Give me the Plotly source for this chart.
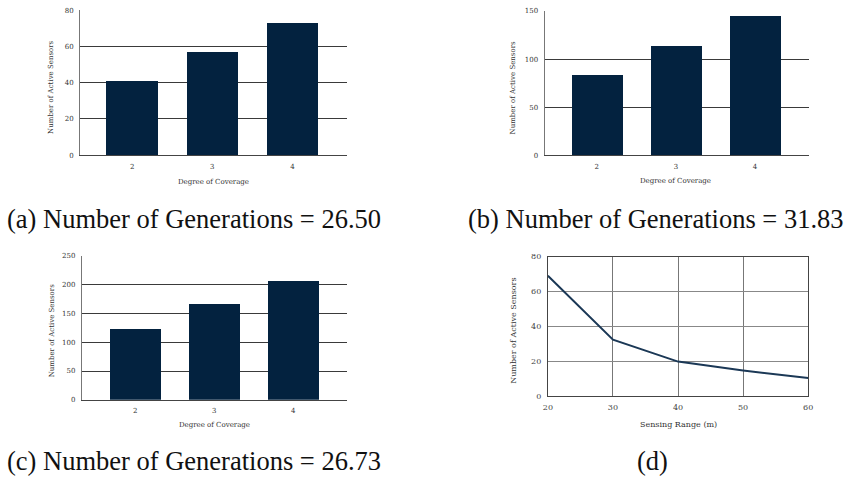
import plotly.graph_objects as go

W, H = 856, 488

coverage = [2, 3, 4]
sensors_a = [40.6, 57.0, 72.6]
sensors_b = [83.8, 114.0, 145.2]
sensors_c = [124.0, 166.7, 207.5]

sensing_range = [20, 30, 40, 50, 60]
sensors_d = [69.0, 32.3, 19.7, 14.6, 10.3]

captions = ["(a) Number of Generations = 26.50",
            "(b) Number of Generations = 31.83",
            "(c) Number of Generations = 26.73",
            "(d)"]

BAR = "#03223f"
LINE = "#1b3856"
TICKF = dict(family="DejaVu Serif", size=7, color="#333333")
TITLEF = dict(family="DejaVu Serif", size=7, color="#333333")


def px_x(p):
    return p / W


def px_y(p):
    return 1 - p / H


fig = go.Figure()

panels = [
    (sensors_a, "", (76, 346), (6.3, 154), [0, 80], [1.35, 4.68], 20),
    (sensors_b, "2", (546, 813), (7, 154.3), [0, 150], [1.34, 4.675], 50),
    (sensors_c, "3", (77.7, 345.7), (256.3, 403.3), [0, 250], [1.325, 4.675], 50),
]

for vals, s, (x0, x1), (yt, yb), yr, xr, dt in panels:
    fig.add_trace(go.Bar(x=coverage, y=vals, width=0.64, marker_color=BAR,
                         marker_line_width=0, xaxis="x" + s, yaxis="y" + s,
                         showlegend=False))
    fig.layout["xaxis" + s] = dict(domain=[px_x(x0), px_x(x1)], range=xr,
                                   anchor="y" + s, tickvals=coverage,
                                   ticktext=[str(c) for c in coverage],
                                   showgrid=False, zeroline=False,
                                   showline=True, linecolor="#444444",
                                   linewidth=1, ticks="", tickfont=TICKF,
                                   ticklabelstandoff=4)
    fig.layout["yaxis" + s] = dict(domain=[px_y(yb), px_y(yt)], range=yr,
                                   anchor="x" + s, dtick=dt, showgrid=True,
                                   gridcolor="#3a3a3a", gridwidth=1,
                                   zeroline=False, showline=True,
                                   linecolor="#777777", linewidth=1, ticks="",
                                   tickfont=TICKF, ticklabelstandoff=4)

DF = dict(family="DejaVu Serif", size=8, color="#444444")
fig.add_trace(go.Scatter(x=sensing_range, y=sensors_d, mode="lines",
                         line=dict(color=LINE, width=2), xaxis="x4",
                         yaxis="y4", showlegend=False))
fig.layout["xaxis4"] = dict(domain=[px_x(549.3), px_x(812.7)], range=[20, 60],
                            anchor="y4", dtick=10, showgrid=True,
                            gridcolor="#777777", gridwidth=1, zeroline=False,
                            showline=True, mirror=True, linecolor="#444444",
                            linewidth=1, ticks="", tickfont=DF,
                            ticklabelstandoff=3)
fig.layout["yaxis4"] = dict(domain=[px_y(399.3), px_y(257.3)], range=[0, 80],
                            anchor="x4", dtick=20, showgrid=True,
                            gridcolor="#888888", gridwidth=1, zeroline=False,
                            showline=True, mirror=True, linecolor="#444444",
                            linewidth=1, ticks="", tickfont=DF,
                            ticklabelstandoff=4)

ann = []
ytitles = [(47, 85, "Number of Active Sensors"), (514, 85, "Number of Active Sensors"),
           (47, 333, "Number of Active Sensors"), (515, 333, "Number of Active Sensors")]
xtitles = [(211, 181, "Degree of Coverage"), (678, 180, "Degree of Coverage"),
           (212, 429, "Degree of Coverage"), (681, 428, "Sensing Range (m)")]
for i, (x, y, t) in enumerate(ytitles):
    ann.append(dict(x=px_x(x), y=px_y(y), xref="paper", yref="paper", text=t,
                    showarrow=False, textangle=-90,
                    font=TITLEF if i < 3 else dict(family="DejaVu Serif", size=8, color="#333333"),
                    xanchor="center", yanchor="middle"))
for i, (x, y, t) in enumerate(xtitles):
    ann.append(dict(x=px_x(x), y=px_y(y), xref="paper", yref="paper", text=t,
                    showarrow=False,
                    font=TITLEF if i < 3 else dict(family="DejaVu Serif", size=8, color="#333333"),
                    xanchor="center", yanchor="middle"))

capf = dict(family="Liberation Serif", size=26.5, color="#111111")
cap_pos = [(0, 219, "left"), (466, 219, "left"), (0, 466, "left"), (655, 466, "center")]
for (x, y, a), t in zip(cap_pos, captions):
    ann.append(dict(x=px_x(x), y=px_y(y), xref="paper", yref="paper", text=t,
                    showarrow=False, font=capf, xanchor=a, yanchor="middle"))

fig.update_layout(width=W, height=H, margin=dict(l=0, r=0, t=0, b=0),
                  paper_bgcolor="white", plot_bgcolor="white",
                  annotations=ann, bargap=0)

fig.write_html("out.html", config={"displayModeBar": False},
               post_script="document.body.style.margin='0';document.body.style.overflow='hidden';")
